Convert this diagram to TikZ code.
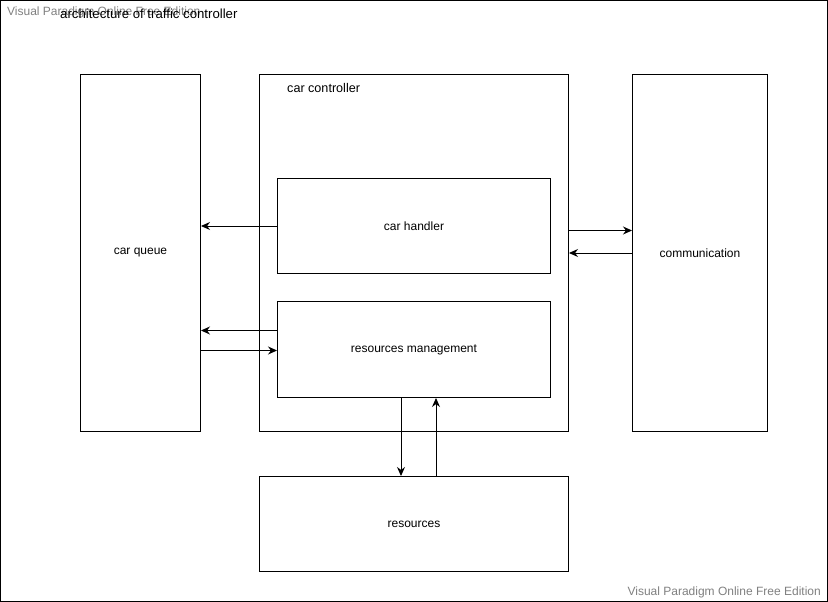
\documentclass[tikz,border=0pt]{standalone}
\usepackage{fontspec}
\setmainfont{Liberation Sans}
\usetikzlibrary{arrows.meta}
\begin{document}
\begin{tikzpicture}[x=1pt,y=-1pt,
  font=\fontsize{12}{14}\selectfont,
  box/.style={draw=black, line width=1pt, fill=white, inner sep=0pt, anchor=north west, align=center},
  link/.style={draw=black, line width=1pt, -{Stealth[length=9pt,width=8pt]}},
  watermark/.style={text=black!50, inner sep=0pt}]
  \useasboundingbox (0,0) rectangle (828,602);
  % frame
  \draw[line width=1pt] (0.5,0.5) rectangle (827.5,601.5);
  % watermark and title
  \node[watermark, anchor=west] (wmtop) at (7,12) {Visual Paradigm Online Free Edition};
  \node[inner sep=0pt, anchor=west, font=\fontsize{13.2}{15}\selectfont] (title) at (60,14) {architecture of traffic controller};
  \node[watermark, anchor=east] (wmbot) at (821,592) {Visual Paradigm Online Free Edition};
  % boxes
  \node[box, minimum width=120pt, minimum height=357pt] (queue) at (80,74) {car queue};
  \node[box, minimum width=309pt, minimum height=357pt] (ctrl) at (259,74) {};
  \node[inner sep=0pt, anchor=west, font=\fontsize{12.6}{15}\selectfont] (ctrllabel) at (287,88) {car controller};
  \node[box, minimum width=273pt, minimum height=95pt] (handler) at (277,178) {car handler};
  \node[box, minimum width=273pt, minimum height=96pt] (rm) at (277,301) {resources management};
  \node[box, minimum width=135pt, minimum height=357pt] (comm) at (632,74) {communication};
  \node[box, minimum width=309pt, minimum height=95pt] (res) at (259,476) {resources};
  % connectors
  \draw[link] (handler.west) -- (handler.west -| queue.east);
  \draw[link] ([yshift=22.5pt]ctrl.east) -- ([yshift=22.5pt]ctrl.east -| comm.west);
  \draw[link] (comm.west) -- (comm.west -| ctrl.east);
  \draw[link] ([yshift=19pt]rm.west) -- ([yshift=19pt]rm.west -| queue.east);
  \draw[link] ([yshift=-1pt]rm.west -| queue.east) -- ([yshift=-1pt]rm.west);
  \draw[link] ([xshift=-13pt]rm.south) -- ([xshift=-13pt]rm.south |- res.north);
  \draw[link] ([xshift=22pt]rm.south |- res.north) -- ([xshift=22pt]rm.south);
\end{tikzpicture}
\end{document}
